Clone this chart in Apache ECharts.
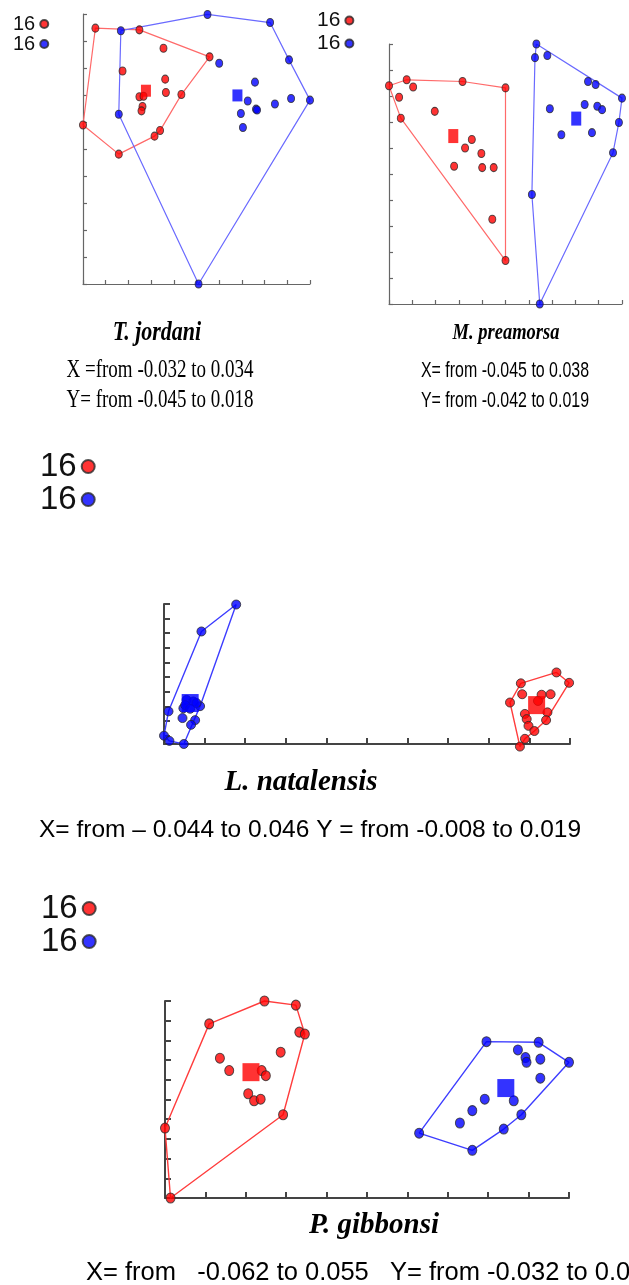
<!DOCTYPE html>
<html><head><meta charset="utf-8">
<script src="https://cdn.jsdelivr.net/npm/echarts@6/dist/echarts.min.js"></script>
<style>html,body{margin:0;padding:0;background:#fff;}#c{width:629px;height:1285px;}</style>
</head><body><div id="c"></div>
<script>
// ---------- T. jordani ----------
const tjXRange = [-0.032, 0.034];
const tjYRange = [-0.045, 0.018];
const tjXTicks = [-0.032, -0.0254, -0.0188, -0.0122, -0.0056, 0.001, 0.0076, 0.0142, 0.0208, 0.0274, 0.034];
const tjYTicks = [-0.045, -0.0387, -0.0324, -0.0261, -0.0198, -0.0135, -0.0072, -0.0009, 0.0054, 0.0117, 0.018];
const tjRedX = [-0.0284, -0.0156, -0.0086, 0.0048, -0.0205, -0.0081, -0.0079, -0.0034, -0.0156, -0.0144, -0.0147, -0.0150, -0.0096, -0.0112, -0.0216, -0.0320];
const tjRedY = [0.0147, 0.0143, 0.0100, 0.0080, 0.0047, 0.0028, -0.0003, -0.0008, -0.0013, -0.0012, -0.0036, -0.0046, -0.0092, -0.0105, -0.0147, -0.0079];
const tjBlueX = [0.0042, 0.0224, -0.0210, 0.0279, 0.0076, 0.0180, 0.0159, 0.0183, 0.0186, 0.0238, 0.0285, 0.0340, 0.0139, 0.0145, -0.0216, 0.0016];
const tjBlueY = [0.0179, 0.0160, 0.0141, 0.0073, 0.0065, 0.0021, -0.0023, -0.0042, -0.0044, -0.0030, -0.0017, -0.0021, -0.0052, -0.0085, -0.0054, -0.0450];
const tjRedHull = [15, 0, 1, 3, 7, 12, 13, 14, 15];
const tjBlueHull = [2, 0, 1, 3, 11, 15, 14, 2];
const tjRedMean = [-0.0137, 0.0001];
const tjBlueMean = [0.0129, -0.0010];

// ---------- M. preamorsa ----------
const mpXRange = [-0.045, 0.038];
const mpYRange = [-0.042, 0.019];
const mpXTicks = [-0.045, -0.0367, -0.0284, -0.0201, -0.0118, -0.0035, 0.0048, 0.0131, 0.0214, 0.0297, 0.038];
const mpYTicks = [-0.042, -0.0359, -0.0298, -0.0237, -0.0176, -0.0115, -0.0054, 0.0007, 0.0068, 0.0129, 0.019];
const mpRedX = [-0.0450, -0.0387, -0.0364, -0.0188, -0.0035, -0.0414, -0.0408, -0.0287, -0.0155, -0.0179, -0.0121, -0.0218, -0.0118, -0.0077, -0.0082, -0.0035];
const mpRedY = [0.0092, 0.0106, 0.0089, 0.0102, 0.0087, 0.0065, 0.0016, 0.0032, -0.0034, -0.0054, -0.0067, -0.0097, -0.0100, -0.0100, -0.0221, -0.0318];
const mpBlueX = [0.0075, 0.0070, 0.0114, 0.0259, 0.0286, 0.0380, 0.0247, 0.0292, 0.0309, 0.0123, 0.0164, 0.0273, 0.0369, 0.0348, 0.0059, 0.0087];
const mpBlueY = [0.0190, 0.0158, 0.0163, 0.0102, 0.0095, 0.0063, 0.0048, 0.0044, 0.0036, 0.0038, -0.0023, -0.0018, 0.0006, -0.0065, -0.0163, -0.0420];
const mpRedHull = [0, 1, 3, 4, 15, 6, 0];
const mpBlueHull = [0, 5, 12, 13, 15, 14, 1, 0];
const mpRedMean = [-0.0221, -0.0026];
const mpBlueMean = [0.0217, 0.0015];

// ---------- L. natalensis ----------
const lnXRange = [-0.044, 0.046];
const lnYRange = [-0.008, 0.019];
const lnXTicks = [-0.044, -0.035, -0.026, -0.017, -0.008, 0.001, 0.010, 0.019, 0.028, 0.037, 0.046];
const lnYTicks = [0.019, 0.01618, 0.01336, 0.01054, 0.00772, 0.0049, 0.00208, -0.00074, -0.00356, -0.00638];
const lnBlueX = [-0.0280, -0.0357, -0.0430, -0.0397, -0.0360, -0.0399, -0.0371, -0.0380, -0.0440, -0.0428, -0.0396, -0.0390, -0.0375, -0.0393, -0.0368, -0.0382];
const lnBlueY = [0.0189, 0.0137, -0.0017, -0.0011, -0.0007, -0.0030, -0.0034, -0.0043, -0.0064, -0.0074, -0.0080, 0.0005, 0.0002, -0.0005, -0.0001, -0.0012];
const lnRedX = [0.0430, 0.0458, 0.0351, 0.0354, 0.0327, 0.0397, 0.0417, 0.0360, 0.0410, 0.0407, 0.0364, 0.0368, 0.0381, 0.0360, 0.0349, 0.0389];
const lnRedY = [0.0058, 0.0038, 0.0037, 0.0016, 0.0000, 0.0015, 0.0016, -0.0022, -0.0019, -0.0034, -0.0032, -0.0045, -0.0055, -0.0070, -0.0085, 0.0003];
const lnBlueHull = [8, 2, 1, 0, 4, 10, 9, 8];
const lnRedHull = [14, 4, 2, 0, 1, 9, 12, 13, 14];
const lnRedMean = [0.0386, -0.0005];
const lnBlueMean = [-0.0382, -0.0001];

// ---------- P. gibbonsi ----------
const pgXRange = [-0.062, 0.055];
const pgYRange = [-0.032, 0.030];
const pgXTicks = [-0.062, -0.0503, -0.0386, -0.0269, -0.0152, -0.0035, 0.0082, 0.0199, 0.0316, 0.0433, 0.055];
const pgYTicks = [-0.032, -0.0258, -0.0196, -0.0134, -0.0072, -0.001, 0.0052, 0.0114, 0.0176, 0.0238, 0.030];
const pgRedX = [-0.0332, -0.0241, -0.0492, -0.0231, -0.0215, -0.0285, -0.0461, -0.0434, -0.0340, -0.0328, -0.0379, -0.0362, -0.0343, -0.0278, -0.0620, -0.0604];
const pgRedY = [0.0300, 0.0287, 0.0228, 0.0202, 0.0196, 0.0139, 0.0120, 0.0081, 0.0081, 0.0065, 0.0008, -0.0014, -0.0009, -0.0058, -0.0100, -0.0320];
const pgBlueX = [0.0311, 0.0462, 0.0402, 0.0424, 0.0427, 0.0467, 0.0550, 0.0467, 0.0306, 0.0390, 0.0270, 0.0412, 0.0234, 0.0361, 0.0116, 0.0270];
const pgBlueY = [0.0172, 0.0170, 0.0146, 0.0122, 0.0107, 0.0117, 0.0107, 0.0057, -0.0009, -0.0014, -0.0045, -0.0058, -0.0084, -0.0103, -0.0116, -0.0170];
const pgRedHull = [14, 2, 0, 1, 4, 13, 15, 14];
const pgBlueHull = [14, 0, 1, 6, 11, 13, 15, 14];
const pgRedMean = [-0.0371, 0.0076];
const pgBlueMean = [0.0367, 0.0026];

const countLabel = '16';
const titles = ['T. jordani', 'M. preamorsa', 'L. natalensis', 'P. gibbonsi'];
const rangeTexts = [
  'X =from -0.032 to 0.034', 'Y= from -0.045 to 0.018',
  'X= from -0.045 to 0.038', 'Y= from -0.042 to 0.019',
  'X= from \u2013 0.044 to 0.046 Y = from -0.008 to 0.019',
  'X= from   -0.062 to 0.055   Y= from -0.032 to 0.0'
];

// ---------- build ----------
const panels = [
  {key:'tj', xr:tjXRange, yr:tjYRange, xt:tjXTicks, yt:tjYTicks, rx:tjRedX, ry:tjRedY, bx:tjBlueX, by:tjBlueY, rh:tjRedHull, bh:tjBlueHull, rm:tjRedMean, bm:tjBlueMean,
   grid:{left:83, top:14, width:227, height:270}, dot:[7,8], sq:[10,12], axC:'#666', axW:1.2, tk:4, hullW:1.2, rc:'#ff6a6a', bc:'#6a6aff'},
  {key:'mp', xr:mpXRange, yr:mpYRange, xt:mpXTicks, yt:mpYTicks, rx:mpRedX, ry:mpRedY, bx:mpBlueX, by:mpBlueY, rh:mpRedHull, bh:mpBlueHull, rm:mpRedMean, bm:mpBlueMean,
   grid:{left:389, top:44, width:233, height:260}, dot:[7,8], sq:[10,14], axC:'#666', axW:1.2, tk:4, hullW:1.2, rc:'#ff6a6a', bc:'#6a6aff'},
  {key:'ln', xr:lnXRange, yr:lnYRange, xt:lnXTicks, yt:lnYTicks, rx:lnRedX, ry:lnRedY, bx:lnBlueX, by:lnBlueY, rh:lnRedHull, bh:lnBlueHull, rm:lnRedMean, bm:lnBlueMean,
   grid:{left:164, top:604, width:406, height:140}, dot:[9,9], sq:[17,18], axC:'#444', axW:2, tk:6, hullW:1.4, rc:'#ff3d3d', bc:'#3d3dff'},
  {key:'pg', xr:pgXRange, yr:pgYRange, xt:pgXTicks, yt:pgYTicks, rx:pgRedX, ry:pgRedY, bx:pgBlueX, by:pgBlueY, rh:pgRedHull, bh:pgBlueHull, rm:pgRedMean, bm:pgBlueMean,
   grid:{left:165, top:1001, width:404, height:197}, dot:[9,10], sq:[17,18], axC:'#444', axW:2, tk:6, hullW:1.4, rc:'#ff3d3d', bc:'#3d3dff'}
];

function pts(xs, ys) { return xs.map((x, i) => [x, ys[i]]); }
function ring(xs, ys, idx) { return idx.map(i => [xs[i], ys[i]]); }
function axis(p, i, dim) {
  return {
    gridIndex: i, type: 'value',
    min: dim === 'x' ? p.xr[0] : p.yr[0], max: dim === 'x' ? p.xr[1] : p.yr[1],
    axisLine: {show: true, onZero: false, lineStyle: {color: p.axC, width: p.axW}},
    axisTick: {show: true, inside: true, length: p.tk, customValues: dim === 'x' ? p.xt : p.yt, lineStyle: {color: p.axC, width: p.axW}},
    axisLabel: {show: false}, splitLine: {show: false}
  };
}

const grid = [], xAxis = [], yAxis = [], series = [];
panels.forEach((p, i) => {
  grid.push(Object.assign({containLabel: false}, p.grid));
  xAxis.push(axis(p, i, 'x'));
  yAxis.push(axis(p, i, 'y'));
  const common = {xAxisIndex: i, yAxisIndex: i, clip: false, silent: true, animation: false};
  series.push(Object.assign({type: 'line', data: ring(p.rx, p.ry, p.rh), symbol: 'none', z: 1, lineStyle: {color: p.rc, width: p.hullW}}, common));
  series.push(Object.assign({type: 'line', data: ring(p.bx, p.by, p.bh), symbol: 'none', z: 1, lineStyle: {color: p.bc, width: p.hullW}}, common));
  series.push(Object.assign({type: 'scatter', name: p.key + 'Red', data: pts(p.rx, p.ry), symbol: 'circle', symbolSize: p.dot, z: 2, itemStyle: {color: '#ff0000', borderColor: '#2a2a2a', borderWidth: 1}}, common));
  series.push(Object.assign({type: 'scatter', name: p.key + 'Blue', data: pts(p.bx, p.by), symbol: 'circle', symbolSize: p.dot, z: 2, itemStyle: {color: '#0000ff', borderColor: '#2a2a2a', borderWidth: 1}}, common));
  series.push(Object.assign({type: 'scatter', data: [p.rm], symbol: 'rect', symbolSize: p.sq, z: 3, itemStyle: {color: '#ff0000'}}, common));
  series.push(Object.assign({type: 'scatter', data: [p.bm], symbol: 'rect', symbolSize: p.sq, z: 3, itemStyle: {color: '#0000ff'}}, common));
});

const legFont = '"Liberation Sans", Arial, sans-serif';
function leg(left, top, fs, lh, iw, ih, gap, names) {
  return {
    left: left, top: top, orient: 'vertical', align: 'right', padding: 0, itemGap: gap,
    itemWidth: iw, itemHeight: ih, icon: 'circle', selectedMode: false, data: names,
    formatter: () => countLabel,
    textStyle: {fontFamily: legFont, fontSize: fs, lineHeight: lh, color: '#111'}
  };
}
const legend = [
  leg(13, 14, 20, 18, 8, 9, 0, ['tjRed', 'tjBlue']),
  leg(317, 10, 21, 19, 8, 9, 2, ['mpRed', 'mpBlue']),
  leg(40, 450, 33, 31, 13, 16, 0, ['lnRed', 'lnBlue']),
  leg(41, 892, 33, 31, 13, 16, 0, ['pgRed', 'pgBlue'])
];

function txt(s, x, y, font, sy, sx) {
  return {type: 'text', x: x, y: y, scaleY: sy || 1, scaleX: sx || 1, silent: true,
    style: {text: s, font: font, fill: '#000', textAlign: 'center', align: 'center', textVerticalAlign: 'middle', verticalAlign: 'middle'}};
}
function txtL(s, x, y, font) {
  return {type: 'text', x: x, y: y, silent: true,
    style: {text: s, font: font, fill: '#000', textAlign: 'left', align: 'left', textVerticalAlign: 'middle', verticalAlign: 'middle'}};
}
const serifBI = 'italic bold {s}px "Liberation Serif", serif';
const sansF = '19px "Liberation Sans", Arial, sans-serif';
const graphic = [
  txt(titles[0], 157, 333, serifBI.replace('{s}', 22), 1.25),
  txt(rangeTexts[0], 160, 371, '19px "Liberation Serif", serif', 1.3),
  txt(rangeTexts[1], 160, 401, '19px "Liberation Serif", serif', 1.3),
  txt(titles[1], 506, 333, serifBI.replace('{s}', 18.5), 1.3),
  txt(rangeTexts[2], 505, 371, sansF, 1.15, 0.84),
  txt(rangeTexts[3], 505, 401, sansF, 1.15, 0.84),
  txt(titles[2], 301, 783, serifBI.replace('{s}', 29), 1),
  txtL(rangeTexts[4], 39, 830, '24.5px "Liberation Sans", Arial, sans-serif'),
  txt(titles[3], 374, 1226, serifBI.replace('{s}', 29), 1),
  txtL(rangeTexts[5], 86, 1273, '25.5px "Liberation Sans", Arial, sans-serif')
];

const chart = echarts.init(document.getElementById('c'), null, {renderer: 'canvas'});
chart.setOption({animation: false, backgroundColor: '#fff', grid, xAxis, yAxis, series, legend, graphic});
</script></body></html>
